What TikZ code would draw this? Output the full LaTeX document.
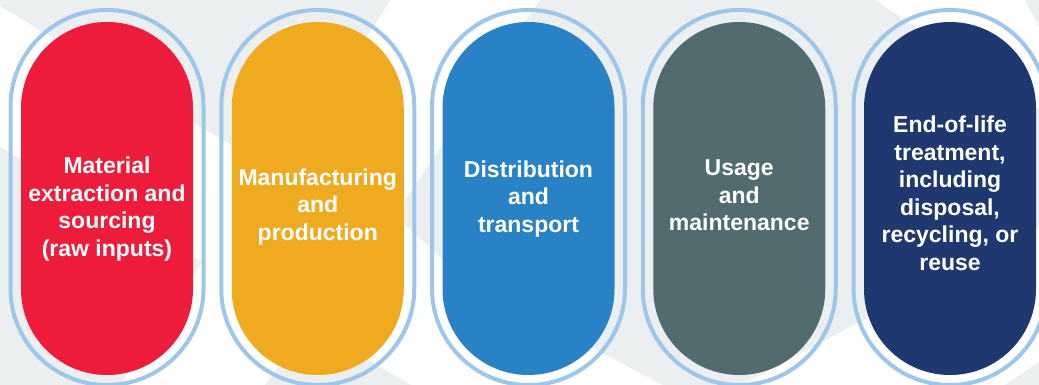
\documentclass[tikz,border=0pt]{standalone}
\usepackage{fontspec}
\setmainfont{Liberation Sans}
\definecolor{bggray}{RGB}{236,239,239}
\definecolor{ringblue}{RGB}{157,199,234}
\definecolor{cred}{RGB}{236,28,58}
\definecolor{corange}{RGB}{240,170,32}
\definecolor{cblue}{RGB}{40,130,197}
\definecolor{cslate}{RGB}{82,107,110}
\definecolor{cnavy}{RGB}{32,56,112}
\begin{document}
\begin{tikzpicture}[x=1pt,y=-1pt,
  ringbox/.style={draw=ringblue, line width=4pt, rectangle, rounded corners=96.4pt,
    minimum width=193pt, minimum height=375pt, inner sep=0pt, outer sep=0pt},
  pillbox/.style={rectangle, rounded corners=85.9pt, draw=none,
    minimum width=172pt, minimum height=353pt, inner sep=0pt, outer sep=0pt},
  pilltext/.style={text=white, font=\fontsize{23}{27.5}\selectfont\bfseries,
    align=center, inner sep=0pt, outer sep=0pt},
]
\useasboundingbox (0,0) rectangle (1039,385);
\clip (0,0) rectangle (1039,385);
% background
\fill[white] (0,0) rectangle (1039,385);
\fill[bggray] (0,0) -- (391,0) -- (276,172) -- (0,6) -- cycle;
\fill[bggray] (0,147) -- (202,262) -- (120,385) -- (0,385) -- cycle;
\fill[bggray] (265,385) -- (308,325) -- (411,385) -- cycle;
\fill[bggray] (540,0) -- (875,0) -- (1136,175) -- (741,385) -- (700,405) -- (610,357) -- (470,285) -- (395,215) -- cycle;
\fill[bggray] (1025,0) -- (1039,0) -- (1039,27) -- cycle;
\fill[bggray] (1005,385) -- (1039,385) -- (1039,362) -- cycle;
% rings
\node[ringbox] (r1) at (107,197.5) {};
\node[ringbox] (r2) at (317.75,197.5) {};
\node[ringbox] (r3) at (528.5,197.5) {};
\node[ringbox] (r4) at (739.25,197.5) {};
\node[ringbox] (r5) at (950,197.5) {};
% pills
\node[pillbox, fill=cred] (p1) at (107,198.5) {};
\node[pillbox, fill=corange] (p2) at (317.75,198.5) {};
\node[pillbox, fill=cblue] (p3) at (528.5,198.5) {};
\node[pillbox, fill=cslate] (p4) at (739.25,198.5) {};
\node[pillbox, fill=cnavy] (p5) at (950,198.5) {};
% texts
\node[pilltext] (t1) at (107,209) {Material\\extraction and\\sourcing\\(raw inputs)};
\node[pilltext] (t2) at (317.75,206.6) {Manufacturing\\and\\production};
\node[pilltext] (t3) at (528.5,198.6) {Distribution\\and\\transport};
\node[pilltext] (t4) at (739.25,195.3) {Usage\\and\\maintenance};
\node[pilltext] (t5) at (950,193.5) {End-of-life\\treatment,\\including\\disposal,\\recycling, or\\reuse};
\end{tikzpicture}
\end{document}
